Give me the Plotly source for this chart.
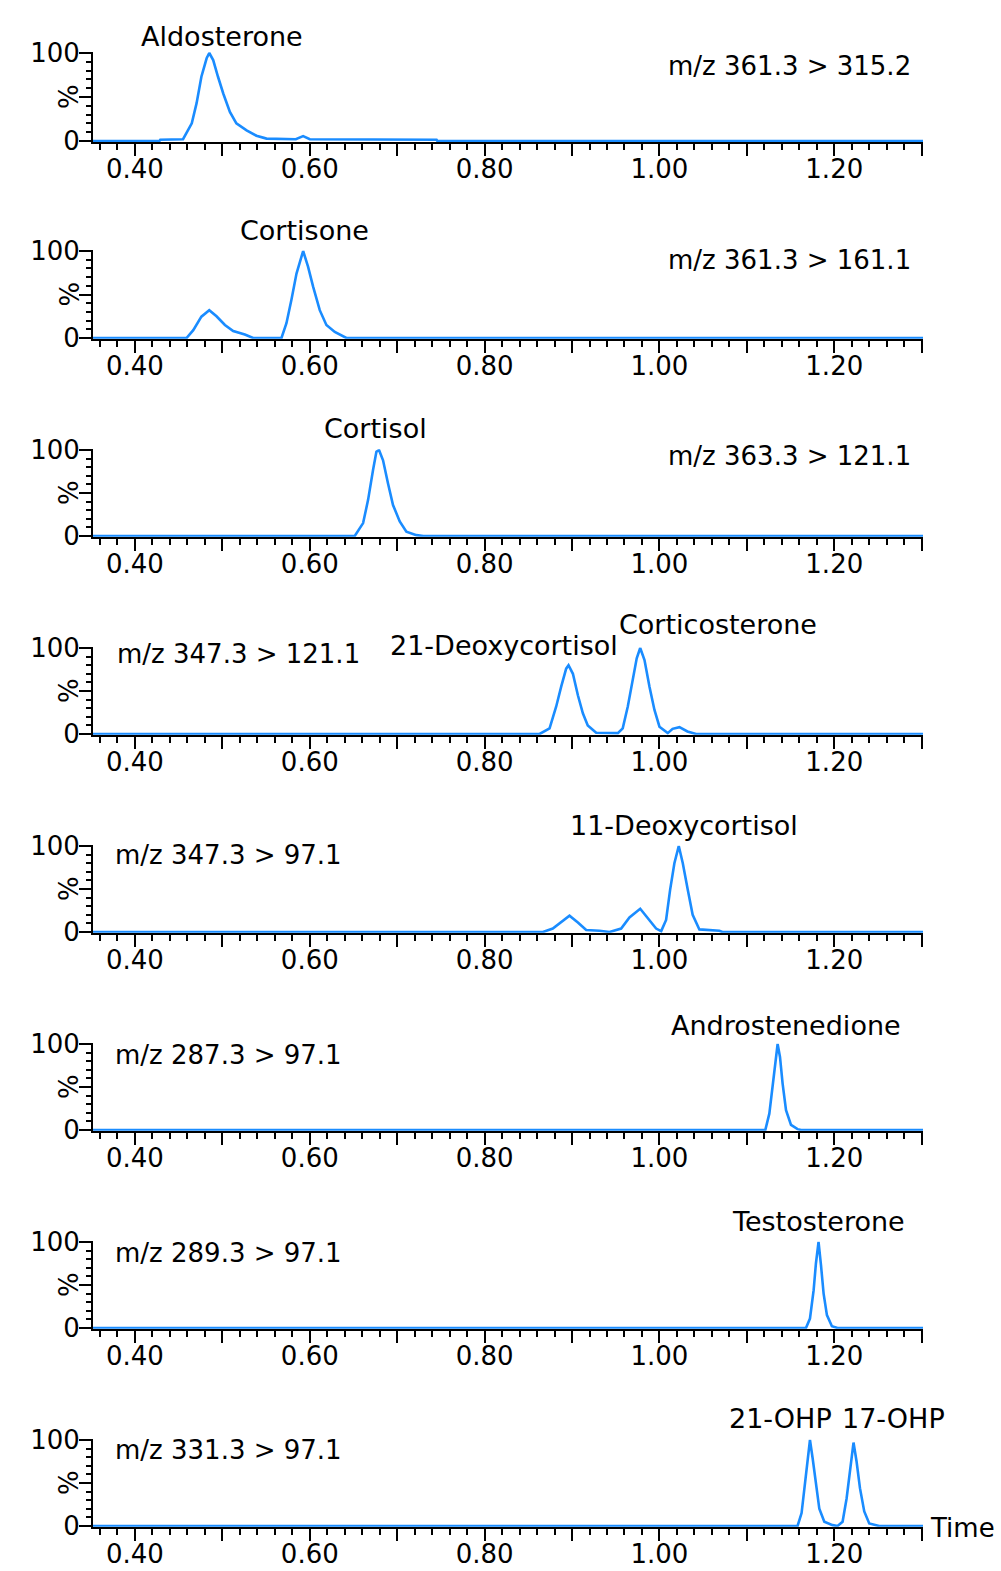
import plotly.graph_objects as go

W, H = 1001, 1571
FONT = "DejaVu Sans"
BLUE = "#1a8cff"

# ---- data: retention time (min) and relative intensity (%) per transition ----
t1 = [0.352, 0.428, 0.429, 0.455, 0.465, 0.4705, 0.476, 0.482, 0.485, 0.4895, 0.495, 0.501,
      0.5086, 0.516, 0.5277, 0.539, 0.5505, 0.584, 0.5924, 0.600, 0.745, 0.746, 1.302]
i1 = [0, 0, 1.5, 2, 20, 43, 73, 94, 100, 92, 73, 54, 33, 20, 12, 6, 2.7, 2, 5.5, 2, 1.5, 0, 0]

t2 = [0.352, 0.459, 0.4667, 0.476, 0.485, 0.4933, 0.5029, 0.5124, 0.5257, 0.5352, 0.5676,
      0.5733, 0.579, 0.5848, 0.5924, 0.598, 0.6038, 0.6114, 0.619, 0.6286, 0.6419, 1.302]
i2 = [0, 0, 9, 24.5, 32, 25, 15, 8, 4, 0, 0, 17, 44, 74, 100, 82, 59, 32, 15, 7, 0, 0]

t3 = [0.352, 0.6514, 0.661, 0.6667, 0.6724, 0.6762, 0.6792, 0.6838, 0.6895, 0.6952, 0.7029,
      0.7105, 0.722, 0.730, 1.302]
i3 = [0, 0, 15, 42, 77, 98, 100, 88, 61, 36, 17, 5, 1, 0, 0]

t4 = [0.352, 0.8629, 0.8743, 0.8819, 0.8876, 0.8933, 0.896, 0.901, 0.9067, 0.9124, 0.918,
      0.9276, 0.9524, 0.958, 0.9638, 0.9695, 0.974, 0.978, 0.9829, 0.9886, 0.9943, 1.000,
      1.0095, 1.015, 1.0229, 1.032, 1.0419, 1.302]
i4 = [0, 0, 6.6, 32, 55, 76, 80, 70, 45, 24, 10, 1.5, 1, 6.6, 32, 63, 88, 100, 86, 55, 28,
      8.5, 1, 6, 8, 3, 0, 0]

t5 = [0.352, 0.8667, 0.878, 0.8876, 0.8971, 0.9067, 0.9162, 0.9314, 0.9429, 0.9562, 0.9657,
      0.978, 0.9867, 0.9962, 1.002, 1.0076, 1.0122, 1.0171, 1.0221, 1.0267, 1.0324, 1.038,
      1.0457, 1.0686, 1.072, 1.302]
i5 = [0, 0, 4, 12, 19, 11, 2.3, 1.5, 0, 4, 17, 27, 16, 4, 1, 14, 49, 80, 100, 80, 49, 20,
      3, 1.5, 0, 0]

t6 = [0.352, 1.1211, 1.1257, 1.1295, 1.1326, 1.1352, 1.1379, 1.1409, 1.1448, 1.1505, 1.158,
      1.162, 1.302]
i6 = [0, 0, 19, 54, 83, 100, 85, 54, 23, 6, 1, 0, 0]

t7 = [0.352, 1.1676, 1.1722, 1.1764, 1.179, 1.182, 1.1848, 1.1878, 1.1916, 1.1973, 1.2038, 1.302]
i7 = [0, 0, 11, 44, 75, 100, 73, 40, 15, 2, 0, 0]

t8 = [0.352, 1.158, 1.1626, 1.1665, 1.1695, 1.1722, 1.1752, 1.179, 1.1829, 1.1886, 1.198,
      1.2038, 1.2095, 1.2141, 1.218, 1.222, 1.2255, 1.2294, 1.2343, 1.240, 1.2514, 1.302]
i8 = [0, 0, 15, 48, 79, 100, 79, 48, 20, 5, 1, 0, 5, 32, 67, 97, 75, 44, 17, 3, 0, 0]

times = [t1, t2, t3, t4, t5, t6, t7, t8]
intens = [i1, i2, i3, i4, i5, i6, i7, i8]

transitions = ["m/z 361.3 > 315.2", "m/z 361.3 > 161.1", "m/z 363.3 > 121.1",
               "m/z 347.3 > 121.1", "m/z 347.3 > 97.1", "m/z 287.3 > 97.1",
               "m/z 289.3 > 97.1", "m/z 331.3 > 97.1"]

compound_names = [["Aldosterone"], ["Cortisone"], ["Cortisol"],
                  ["21-Deoxycortisol", "Corticosterone"], ["11-Deoxycortisol"],
                  ["Androstenedione"], ["Testosterone"], ["21-OHP", "17-OHP"]]

x_tickvals = [0.4, 0.5, 0.6, 0.7, 0.8, 0.9, 1.0, 1.1, 1.2, 1.3]
x_ticktext = ["0.40", "", "0.60", "", "0.80", "", "1.00", "", "1.20", ""]
y_tickvals = [0, 50, 100]
y_ticktext = ["0", "", "100"]

# ---- layout geometry (pixels) ----
panel_px = [(53, 141), (251, 338), (450, 536), (648, 734),
            (846, 932), (1044, 1130), (1242, 1328), (1440, 1526)]  # (y of 100, y of 0)
X_LEFT, X_RIGHT = 93, 923
YMIN, YMAX = -1, 101

trans_pos = [(666, 66, "left"), (666, 260, "left"), (666, 456, "left"), (115, 654, "left"),
             (113, 855, "left"), (113, 1055, "left"), (113, 1253, "left"), (113, 1450, "left")]
name_pos = [[(222, 36)], [(304, 231)], [(375, 428)], [(504, 645), (718, 624)],
            [(684, 825)], [(786, 1025)], [(818, 1221)], [(780, 1418), (893, 1418)]]


def px_x(x):
    return x / W


def px_y(y):
    return 1 - y / H


fig = go.Figure()
annotations = []
for k in range(8):
    n = "" if k == 0 else str(k + 1)
    y100, y0 = panel_px[k]
    ppu = (y0 - y100) / 100.0
    top = y100 - (YMAX - 100) * ppu
    bot = y0 + (0 - YMIN) * ppu
    fig.add_trace(go.Scatter(x=times[k], y=intens[k], mode="lines",
                             line=dict(color=BLUE, width=2.6),
                             xaxis="x" + n, yaxis="y" + n, showlegend=False,
                             hoverinfo="skip"))
    fig.layout["xaxis" + n] = dict(
        domain=[px_x(X_LEFT), px_x(X_RIGHT)], range=[0.352, 1.3015], anchor="y" + n,
        automargin=False,
        showgrid=False, zeroline=False, showline=True, linecolor="black", linewidth=2,
        tickmode="array", tickvals=x_tickvals, ticktext=x_ticktext,
        ticks="outside", ticklen=12, tickwidth=2, tickcolor="black",
        ticklabelstandoff=-9,
        tickfont=dict(family=FONT, size=26, color="black"), layer="below traces",
        minor=dict(tickmode="linear", tick0=0.0, dtick=0.02, ticks="outside",
                   ticklen=6, tickwidth=2, tickcolor="black", showgrid=False),
    )
    fig.layout["yaxis" + n] = dict(
        domain=[px_y(bot), px_y(top)], range=[YMIN, YMAX], anchor="x" + n,
        automargin=False,
        showgrid=False, zeroline=False, showline=True, linecolor="black", linewidth=2,
        tickmode="array", tickvals=y_tickvals, ticktext=y_ticktext,
        ticks="outside", ticklen=12, tickwidth=2, tickcolor="black",
        ticklabelstandoff=-6,
        tickfont=dict(family=FONT, size=26, color="black"), layer="below traces",
        minor=dict(tickmode="linear", tick0=0, dtick=10, ticks="outside",
                   ticklen=5, tickwidth=2, tickcolor="black", showgrid=False),
    )
    annotations.append(dict(x=px_x(69), y=px_y((y100 + y0) / 2), xref="paper", yref="paper",
                            text="%", textangle=-90, showarrow=False,
                            font=dict(family=FONT, size=26, color="black"),
                            xanchor="center", yanchor="middle"))
    tx, ty, anc = trans_pos[k]
    annotations.append(dict(x=px_x(tx), y=px_y(ty), xref="paper", yref="paper",
                            text=transitions[k], showarrow=False,
                            font=dict(family=FONT, size=26, color="black"),
                            xanchor=anc, yanchor="middle"))
    for name, (nx, ny) in zip(compound_names[k], name_pos[k]):
        annotations.append(dict(x=px_x(nx), y=px_y(ny), xref="paper", yref="paper",
                                text=name, showarrow=False,
                                font=dict(family=FONT, size=27, color="black"),
                                xanchor="center", yanchor="middle"))

annotations.append(dict(x=px_x(997), y=px_y(1528), xref="paper", yref="paper",
                        text="Time", showarrow=False,
                        font=dict(family=FONT, size=26, color="black"),
                        xanchor="right", yanchor="middle"))

fig.update_layout(template="none", width=W, height=H, autosize=False,
                  margin=dict(l=0, r=0, t=0, b=0, pad=0),
                  paper_bgcolor="white", plot_bgcolor="white",
                  font=dict(family=FONT, size=26, color="black"),
                  annotations=annotations)

fig.write_html("out.html", config={"displayModeBar": False},
               post_script="document.body.style.margin='0';document.body.style.padding='0';"
                           "document.body.style.overflow='hidden';")
